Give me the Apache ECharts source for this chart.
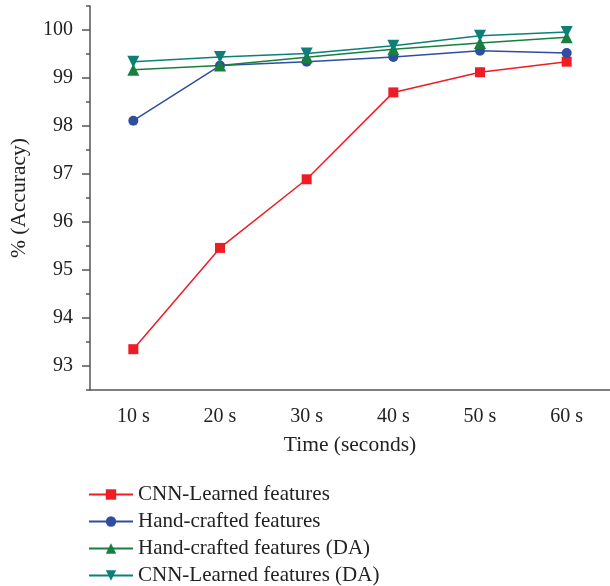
<!DOCTYPE html>
<html>
<head>
<meta charset="utf-8">
<script src="https://cdn.jsdelivr.net/npm/echarts@6/dist/echarts.min.js"></script>
<style>
  html, body { margin: 0; padding: 0; background: #fff; }
  #chart { width: 610px; height: 586px; }
</style>
</head>
<body>
<div id="chart"></div>
<script>
var categories = ['10 s', '20 s', '30 s', '40 s', '50 s', '60 s']
var cnnLearned = [93.35, 95.46, 96.89, 98.70, 99.12, 99.34]
var handCrafted = [98.11, 99.26, 99.34, 99.44, 99.57, 99.52]
var handCraftedDA = [99.17, 99.26, 99.43, 99.60, 99.73, 99.85]
var cnnLearnedDA = [99.34, 99.44, 99.51, 99.67, 99.88, 99.96]
var yMajor = [93, 94, 95, 96, 97, 98, 99, 100]
var yMinor = [92.5, 93.5, 94.5, 95.5, 96.5, 97.5, 98.5, 99.5, 100.5]

var font = 'Liberation Serif'
var axisColor = '#555'
var colors = ['#ee1c25', '#2f4ea3', '#187f3e', '#0c7f78']

function makeSeries (name, data, symbol, size, color) {
  return {
    name: name,
    type: 'line',
    data: data,
    symbol: symbol,
    symbolSize: size,
    itemStyle: { color: color },
    lineStyle: { color: color, width: 1.5 },
    emphasis: { disabled: true }
  }
}

var chart = echarts.init(document.getElementById('chart'))
chart.setOption({
  animation: false,
  grid: { left: 89, right: 0, top: 6, bottom: 196 },
  legend: {
    orient: 'vertical',
    left: 88,
    top: 484,
    height: 200,
    padding: 0,
    itemGap: 6,
    itemWidth: 44,
    itemHeight: 13,
    textStyle: { fontFamily: font, fontSize: 21, color: '#222' },
    data: ['CNN-Learned features', 'Hand-crafted features', 'Hand-crafted features (DA)', 'CNN-Learned features (DA)']
  },
  xAxis: [
    {
      type: 'category',
      data: categories,
      boundaryGap: true,
      name: 'Time (seconds)',
      nameLocation: 'middle',
      nameGap: 44,
      nameTextStyle: { fontFamily: font, fontSize: 21.5, color: '#222' },
      axisLine: { lineStyle: { color: axisColor, width: 1.5 } },
      axisTick: { alignWithLabel: true, length: 7, lineStyle: { color: axisColor, width: 1.5 } },
      axisLabel: { fontFamily: font, fontSize: 20, color: '#222', margin: 17 },
      splitLine: { show: false }
    },
    {
      type: 'category',
      data: categories,
      position: 'bottom',
      boundaryGap: true,
      axisLine: { show: false },
      axisTick: { length: 4, lineStyle: { color: axisColor, width: 1.5 } },
      axisLabel: { show: false },
      splitLine: { show: false }
    }
  ],
  yAxis: [
    {
      type: 'value',
      min: 92.5,
      max: 100.5,
      name: '% (Accuracy)',
      nameLocation: 'middle',
      nameGap: 60,
      nameTextStyle: { fontFamily: font, fontSize: 21.5, color: '#222' },
      axisLine: { show: true, lineStyle: { color: axisColor, width: 1.5 } },
      axisTick: { show: true, length: 8, customValues: yMajor, lineStyle: { color: axisColor, width: 1.5 } },
      axisLabel: { customValues: yMajor, fontFamily: font, fontSize: 20, color: '#222', margin: 17 },
      splitLine: { show: false }
    },
    {
      type: 'value',
      min: 92.5,
      max: 100.5,
      position: 'left',
      axisLine: { show: false },
      axisTick: { show: true, length: 4, customValues: yMinor, lineStyle: { color: axisColor, width: 1.5 } },
      axisLabel: { show: false },
      splitLine: { show: false }
    }
  ],
  series: [
    makeSeries('CNN-Learned features', cnnLearned, 'rect', 10, colors[0]),
    makeSeries('Hand-crafted features', handCrafted, 'circle', 10, colors[1]),
    makeSeries('Hand-crafted features (DA)', handCraftedDA, 'triangle', 12, colors[2]),
    makeSeries('CNN-Learned features (DA)', cnnLearnedDA, 'path://M0,0 L10,0 L5,10 Z', 12, colors[3])
  ]
})
</script>
</body>
</html>
